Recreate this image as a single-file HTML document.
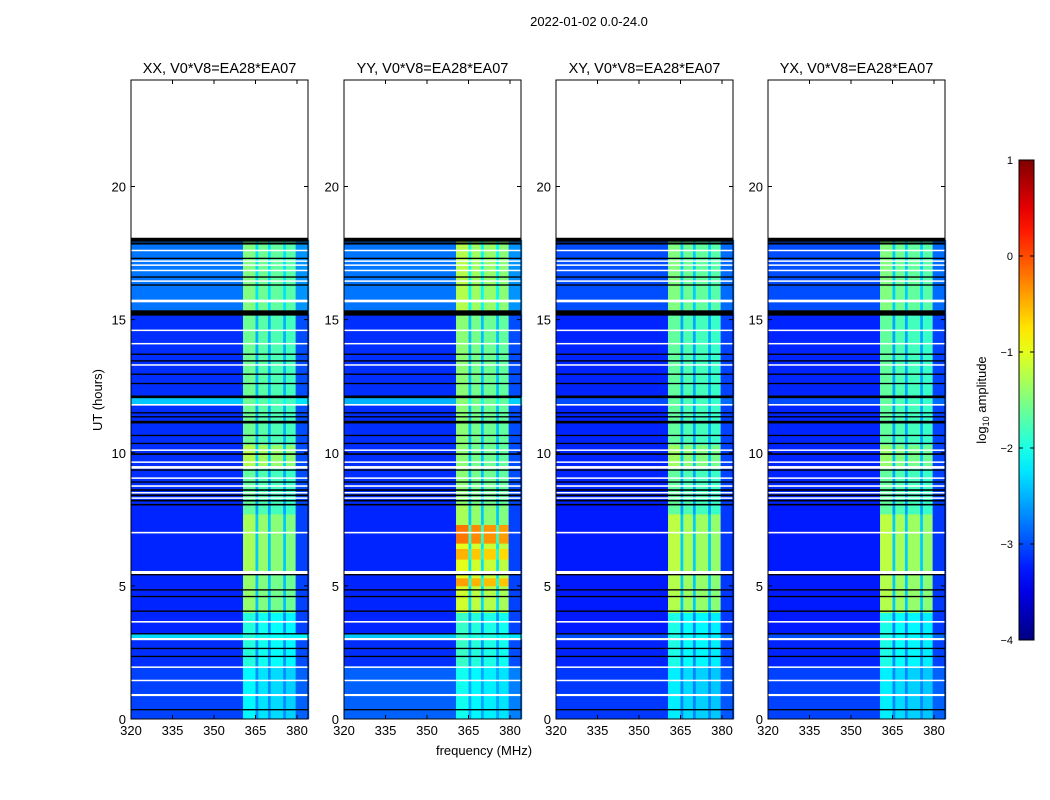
<!DOCTYPE html>
<html><head><meta charset="utf-8">
<style>
body{margin:0;background:#fff;}
svg{display:block;font-family:"Liberation Sans",sans-serif;}
</style></head>
<body>
<svg id="fig" width="1050" height="800" viewBox="0 0 1050 800">
<rect x="0" y="0" width="1050" height="800" fill="#fff"/>
<text x="589" y="26" font-size="13" text-anchor="middle">2022-01-02 0.0-24.0</text>
<text x="484" y="755" font-size="13" text-anchor="middle">frequency (MHz)</text>
<text x="102" y="400" font-size="13" text-anchor="middle" transform="rotate(-90 102 400)">UT (hours)</text>
<g id="panels"></g>
<g id="cbar"></g>
<text x="986" y="400" font-size="13" text-anchor="middle" transform="rotate(-90 986 400)">log<tspan font-size="9" dy="3">10</tspan><tspan dy="-3"> amplitude</tspan></text>
</svg>
<script>
const NS="http://www.w3.org/2000/svg";
const panelTitles=["XX, V0*V8=EA28*EA07","YY, V0*V8=EA28*EA07","XY, V0*V8=EA28*EA07","YX, V0*V8=EA28*EA07"];
const panelLeft=[131,344,556,768];
const xTicks=[320,335,350,365,380];
const yTicks=[0,5,10,15,20];
const cbTicks=[1,0,-1,-2,-3,-4];
// frequency column edges (MHz) and column kind: 0 background,1 band,2 gap,3 edge
const colEdges=[320,360.5,365,366,369.5,370.5,375,376,379.5,384.3];
const colKind=[0,1,2,1,2,1,2,1,3];
const colBandOffset=[0,0.1,0,0,0,-0.05,0,-0.1,0];
// background segments per panel: [startHour,endHour,log10 amp]
const bgXX=[[0,2,-3.05],[2,3,-3.15],[3,3.2,-2.3],[3.2,8.1,-3.2],[8.1,11.8,-3.15],[11.8,12.1,-2.4],[12.1,15.2,-3.15],[15.2,18,-2.8]];
const bgYY=[[0,2,-2.9],[2,3,-3.15],[3,3.2,-2.4],[3.2,8.1,-3.2],[8.1,11.8,-3.15],[11.8,12.1,-2.5],[12.1,15.2,-3.15],[15.2,18,-2.8]];
const bgXY=[[0,2,-3.1],[2,3,-3.2],[3,3.2,-3.0],[3.2,8.1,-3.25],[8.1,11.8,-3.2],[11.8,12.1,-3.0],[12.1,15.2,-3.2],[15.2,18,-3.0]];
const bgYX=[[0,2,-3.05],[2,3,-3.2],[3,3.2,-3.0],[3.2,8.1,-3.25],[8.1,11.8,-3.2],[11.8,12.1,-3.0],[12.1,15.2,-3.2],[15.2,18,-3.0]];
// RFI band segments per panel
const bandXX=[[0,2,-2.25],[2,4,-2.05],[4,5.5,-1.5],[5.5,7.7,-1.4],[7.7,9.5,-1.75],[9.5,10.3,-1.35],[10.3,15.2,-1.7],[15.2,18,-1.6]];
const bandYY=[[0,2,-2.15],[2,4,-1.95],[4,5,-1.2],[5,5.3,-0.5],[5.3,6,-1.1],[6,6.4,-0.6],[6.4,6.6,-1.1],[6.6,7.3,-0.3],[7.3,8.1,-1.4],[8.1,15.2,-1.55],[15.2,18,-1.35]];
const bandXY=[[0,2,-2.3],[2,4,-2.1],[4,5.5,-1.35],[5.5,7.7,-1.3],[7.7,9.5,-1.75],[9.5,10.3,-1.45],[10.3,15.2,-1.75],[15.2,18,-1.6]];
const bandYX=[[0,2,-2.3],[2,4,-2.1],[4,5.5,-1.35],[5.5,7.7,-1.3],[7.7,9.5,-1.75],[9.5,10.3,-1.5],[10.3,15.2,-1.75],[15.2,18,-1.6]];
const bgData=[bgXX,bgYY,bgXY,bgYX];
const bandData=[bandXX,bandYY,bandXY,bandYX];
// flagged rows: [hour, thickness hours]
const blackFlags=[[18.0,0.15],[17.86,0.08],[17.3,0.05],[16.6,0.05],[16.3,0.05],[15.25,0.2],[13.7,0.05],[13.45,0.05],[12.95,0.05],[12.6,0.05],[12.1,0.1],[11.5,0.05],[11.35,0.05],[11.15,0.1],[10.65,0.05],[10.35,0.05],[9.95,0.06],[9.35,0.05],[8.9,0.05],[8.6,0.06],[8.4,0.06],[8.2,0.06],[8.05,0.06],[5.42,0.05],[4.85,0.05],[4.6,0.05],[4.05,0.05],[3.2,0.05],[2.65,0.05],[2.35,0.05],[0.35,0.05]];
const whiteFlags=[[17.6,0.05],[17.2,0.05],[17.05,0.05],[16.85,0.05],[16.45,0.05],[15.7,0.1],[14.6,0.05],[14.1,0.05],[13.3,0.05],[11.8,0.06],[10.1,0.05],[9.65,0.05],[9.45,0.1],[9.05,0.05],[8.75,0.06],[8.5,0.05],[8.3,0.05],[7.0,0.06],[5.5,0.12],[3.65,0.06],[3.0,0.08],[1.95,0.05],[1.45,0.05],[0.9,0.08]];

const PW=177,PT=80,PB=719;
function yOf(h){return PB-(PB-PT)*h/24;}
function xOf(p,f){return panelLeft[p]+(f-320)*(297-131)/60;}
function jet(v){let t=(v+4)/5;t=Math.max(0,Math.min(1,t));
 const c=u=>Math.round(255*Math.max(0,Math.min(1,1.5-Math.abs(u))));
 return `rgb(${c(4*t-3)},${c(4*t-2)},${c(4*t-1)})`;}
function mk(tag,attrs,parent){const e=document.createElementNS(NS,tag);for(const k in attrs)e.setAttribute(k,attrs[k]);parent.appendChild(e);return e;}
function cellVal(kind,c,bv,bandv){
 if(kind===0) return bv;
 if(kind===1) return bandv+colBandOffset[c];
 if(kind===2) return bandv*0.45+bv*0.55;
 return bv+0.15;
}
const G=document.getElementById('panels');
for(let p=0;p<4;p++){
 const g=mk('g',{},G);
 
 
 const L=panelLeft[p];
 for(const [s,e,bv] of bgData[p]){
  for(let c=0;c<colKind.length;c++){
   const kind=colKind[c];
   const cuts=[s,e];
   if(kind===1||kind===2){for(const [bs,be] of bandData[p]){if(bs>s&&bs<e)cuts.push(bs);if(be>s&&be<e)cuts.push(be);}}
   cuts.sort((a,b)=>a-b);
   for(let k=0;k<cuts.length-1;k++){
    const a=cuts[k],b=cuts[k+1];
    let bandv=bv;
    for(const [bs,be,bval] of bandData[p]){ if(bs<=a && be>=b){ bandv=bval; } }
    const vv=cellVal(kind,c,bv,bandv);
    const r=mk('rect',{x:xOf(p,colEdges[c]),y:yOf(b),width:xOf(p,colEdges[c+1])-xOf(p,colEdges[c])+0.3,height:yOf(a)-yOf(b)+0.3,fill:jet(vv)},g);
    
    
   }
  }
 }
 for(const [h,t] of whiteFlags){
  const r=mk('rect',{x:L,y:yOf(h+t/2),width:PW,height:Math.max(1.5,yOf(h-t/2)-yOf(h+t/2)),fill:'#fff'},g);
  
  
 }
 for(const [h,t] of blackFlags){
  const r=mk('rect',{x:L,y:yOf(h+t/2),width:PW,height:Math.max(1.3,yOf(h-t/2)-yOf(h+t/2)),fill:'#000'},g);
  
  
 }
 const fr=mk('rect',{x:L,y:PT,width:PW,height:PB-PT,fill:'none',stroke:'#000','stroke-width':1},g);
 
 
 const tt=mk('text',{x:L+PW/2,y:73,'font-size':14.5,'text-anchor':'middle'},g);
 tt.textContent=panelTitles[p];
 
 
 for(const v of xTicks){
  const x=xOf(p,v);
  mk('line',{x1:x,x2:x,y1:PB,y2:PB-4,stroke:'#000'},g);
  mk('line',{x1:x,x2:x,y1:PT,y2:PT+4,stroke:'#000'},g);
  const t=mk('text',{x:x,y:PB+16,'font-size':13,'text-anchor':'middle'},g);
  t.textContent=v;
  
  
 }
 for(const v of yTicks){
  const y=yOf(v);
  mk('line',{x1:L,x2:L+4,y1:y,y2:y,stroke:'#000'},g);
  mk('line',{x1:L+PW,x2:L+PW-4,y1:y,y2:y,stroke:'#000'},g);
  const t=mk('text',{x:L-5,y:y+5,'font-size':13,'text-anchor':'end'},g);
  t.textContent=v;
  
  
 }
}
const CB=document.getElementById('cbar');
const defs=mk('defs',{},CB);
const lg=mk('linearGradient',{id:'jetg',x1:0,y1:1,x2:0,y2:0},defs);
for(let i=0;i<=20;i++){mk('stop',{offset:i/20,'stop-color':jet(-4+5*i/20)},lg);}
const cr=mk('rect',{x:1019,y:160,width:15,height:480,fill:'url(#jetg)',stroke:'#000'},CB);


for(const v of cbTicks){
 const y=640-(v+4)*96;
 mk('line',{x1:1019,x2:1023,y1:y,y2:y,stroke:'#000'},CB);
 mk('line',{x1:1034,x2:1030,y1:y,y2:y,stroke:'#000'},CB);
 const t=mk('text',{x:1013,y:y+4,'font-size':11,'text-anchor':'end'},CB);
 t.textContent=v<0?'\u2212'+(-v):String(v);
 
 
}
</script>
</body></html>
